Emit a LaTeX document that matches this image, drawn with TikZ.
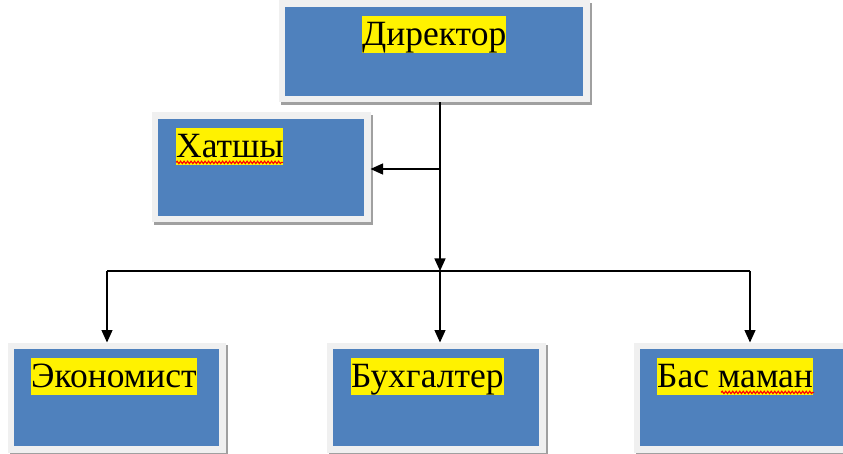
\documentclass[tikz,border=0pt]{standalone}
\usepackage{fontspec}
\setmainfont{Liberation Serif}
\usetikzlibrary{arrows.meta,shadows,decorations.pathmorphing}
\definecolor{boxblue}{HTML}{4F81BD}
\definecolor{framegray}{HTML}{F0F0F0}
\definecolor{shadowgray}{HTML}{A0A0A0}
\tikzset{
  orgbox/.style={draw=framegray, line width=6.5pt, fill=boxblue, inner sep=0pt,
    drop shadow={shadow xshift=2.5pt, shadow yshift=-2.5pt, fill=shadowgray,
      draw=shadowgray, line width=6.5pt, opacity=1}},
  lbl/.style={fill=yellow, inner sep=0pt, anchor=north west, font=\fontsize{35.5}{38}\selectfont,
    text height=29.5pt, text depth=7.5pt},
  conn/.style={draw=black, line width=1.3pt},
  arr/.style={conn, -{Triangle[length=12.5pt,width=11pt]}},
  spell/.style={draw=red, line width=1.1pt, decorate,
    decoration={snake, segment length=3.5pt, amplitude=1.2pt}}
}
\begin{document}
\begin{tikzpicture}[x=1pt,y=-1pt]
\useasboundingbox (0,0) rectangle (843,454);
\fill[white] (0,0) rectangle (843,454);
% boxes
\node[orgbox, minimum width=304.5pt, minimum height=95.5pt] (dir) at (434,51.5) {};
\node[orgbox, minimum width=212.5pt, minimum height=103.5pt] (khat) at (261,167.5) {};
\node[orgbox, minimum width=211.5pt, minimum height=103.5pt] (eco) at (116.5,397.5) {};
\node[orgbox, minimum width=212.5pt, minimum height=103.5pt] (buh) at (436,397.5) {};
\node[orgbox, minimum width=214.5pt, minimum height=103.5pt] (bas) at (744,397.5) {};
% labels
\node[lbl] (tdir) at (362,16) {Директор};
\node[lbl] (tkhat) at (176,128) {Хатшы};
\node[lbl] (teco) at (31,358) {Экономист};
\node[lbl] (tbuh) at (351,358) {Бухгалтер};
\node[lbl] (tbas) at (657,358) {Бас маман};
% spell-check underlines
\draw[spell] (tkhat.south west) ++(0,-3) -- ++(107,0);
\draw[spell] (tbas.south east) ++(-92,-3) -- ++(93,0);
% connectors
\coordinate (hub) at (440,271);
\coordinate (kj) at (440,169);
\coordinate (hl) at (107,271);
\coordinate (hr) at (750,271);
\draw[arr] (dir.south -| hub) -- (hub);
\draw[arr] (kj) -- (khat.east |- kj);
\draw[conn] (hl) -- (hr);
\draw[arr] (hl) -- (eco.north -| hl);
\draw[arr] (hub) -- (buh.north -| hub);
\draw[arr] (hr) -- (bas.north -| hr);
\end{tikzpicture}
\end{document}
